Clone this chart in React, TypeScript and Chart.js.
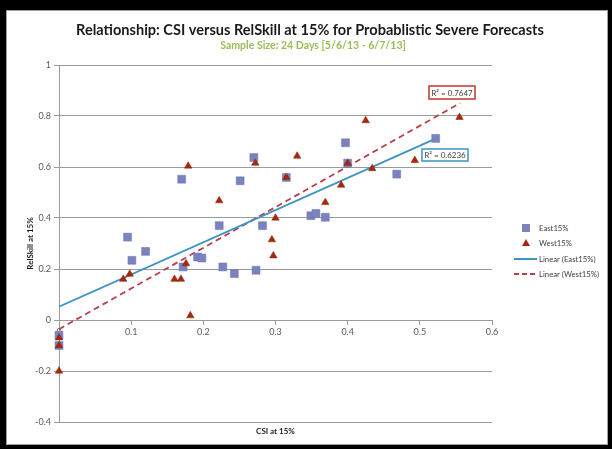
import React, { useEffect, useRef } from "react";
import { Chart, registerables } from "chart.js";

Chart.register(...registerables);

const titleText = "Relationship: CSI versus RelSkill at 15% for Probablistic Severe Forecasts";
const subtitleText = "Sample Size: 24 Days [5/6/13 - 6/7/13]";
const xTitle = "CSI at 15%";
const yTitle = "RelSkill at 15%";
const seriesNames = ["East15%", "West15%", "Linear (East15%)", "Linear (West15%)"];
const r2Labels = ["R² = 0.6236", "R² = 0.7647"];

const eastX = [0, 0, 0.095, 0.101, 0.12, 0.17, 0.172, 0.192, 0.198, 0.222, 0.227, 0.243, 0.251, 0.27, 0.273, 0.282, 0.315, 0.349, 0.356, 0.369, 0.397, 0.4, 0.468, 0.522];
const eastY = [-0.06, -0.1, 0.325, 0.234, 0.269, 0.552, 0.208, 0.247, 0.243, 0.37, 0.208, 0.182, 0.546, 0.637, 0.195, 0.37, 0.559, 0.409, 0.418, 0.403, 0.695, 0.615, 0.572, 0.712];

const westX = [0, 0, 0, 0.089, 0.098, 0.16, 0.169, 0.176, 0.179, 0.182, 0.222, 0.272, 0.295, 0.297, 0.3, 0.315, 0.33, 0.369, 0.391, 0.4, 0.425, 0.434, 0.493, 0.555];
const westY = [-0.07, -0.1, -0.2, 0.16, 0.18, 0.16, 0.16, 0.221, 0.604, 0.017, 0.468, 0.615, 0.315, 0.252, 0.4, 0.559, 0.643, 0.461, 0.529, 0.615, 0.782, 0.594, 0.626, 0.795];

const eastTrendX = [0, 0.522];
const eastTrendY = [0.052, 0.711];
const westTrendX = [0, 0.556];
const westTrendY = [-0.036, 0.851];

const xTicks = [0, 0.1, 0.2, 0.3, 0.4, 0.5, 0.6];
const yTicks = [-0.4, -0.2, 0, 0.2, 0.4, 0.6, 0.8, 1];

const FONT = "Lato, 'Open Sans', sans-serif";
const EAST_COLOR = "#7A83BF";
const EAST_BORDER = "#6A72AE";
const WEST_COLOR = "#A8280C";
const WEST_BORDER = "#8A1C06";
const EAST_LINE = "#3C93C4";
const WEST_LINE = "#B8404A";

const toPts = (xs: number[], ys: number[]) => xs.map((x, i) => ({ x, y: ys[i] }));

function fitText(ctx: CanvasRenderingContext2D, text: string, weight: string, base: number, target: number) {
  ctx.font = `${weight} ${base}px ${FONT}`;
  const w = ctx.measureText(text).width;
  const size = base * (target / w);
  ctx.font = `${weight} ${size}px ${FONT}`;
}

const decorPlugin = {
  id: "decor",
  afterDraw(chart: any) {
    const ctx: CanvasRenderingContext2D = chart.ctx;
    ctx.save();
    // Title
    ctx.textAlign = "center";
    ctx.textBaseline = "middle";
    ctx.fillStyle = "#1a1a1a";
    fitText(ctx, titleText, "bold", 15, 468);
    ctx.fillText(titleText, 303, 19);
    ctx.fillStyle = "#9BBB59";
    fitText(ctx, subtitleText, "bold", 11, 186);
    ctx.fillText(subtitleText, 306, 35);

    // Axis titles
    ctx.fillStyle = "#1a1a1a";
    ctx.font = `bold 8px ${FONT}`;
    ctx.fillText(xTitle, (chart.chartArea.left + chart.chartArea.right) / 2, 420);
    ctx.save();
    ctx.translate(23, (chart.chartArea.top + chart.chartArea.bottom) / 2);
    ctx.rotate(-Math.PI / 2);
    ctx.fillText(yTitle, 0, 0);
    ctx.restore();

    // R² boxes
    const boxes = [
      { text: r2Labels[0], color: EAST_LINE, x: 415, y: 138, w: 46, h: 12 },
      { text: r2Labels[1], color: "#C0392B", x: 422, y: 75, w: 46, h: 13 },
    ];
    ctx.font = `8px ${FONT}`;
    boxes.forEach((b) => {
      ctx.fillStyle = "#ffffff";
      ctx.fillRect(b.x, b.y, b.w, b.h);
      ctx.strokeStyle = b.color;
      ctx.lineWidth = 1.5;
      ctx.strokeRect(b.x, b.y, b.w, b.h);
      ctx.fillStyle = "#404040";
      ctx.fillText(b.text, b.x + b.w / 2, b.y + b.h / 2 + 0.5);
    });

    // Legend
    const lx = 519;
    const tx = 532;
    const rows = [217, 232, 248, 263];
    ctx.textAlign = "left";
    // East square
    ctx.fillStyle = EAST_COLOR;
    ctx.fillRect(lx - 4, rows[0] - 4, 8, 8);
    // West triangle
    ctx.fillStyle = WEST_COLOR;
    ctx.beginPath();
    ctx.moveTo(lx, rows[1] - 4);
    ctx.lineTo(lx + 4, rows[1] + 3);
    ctx.lineTo(lx - 4, rows[1] + 3);
    ctx.closePath();
    ctx.fill();
    // East line
    ctx.strokeStyle = EAST_LINE;
    ctx.lineWidth = 2;
    ctx.setLineDash([]);
    ctx.beginPath();
    ctx.moveTo(507, rows[2]);
    ctx.lineTo(530, rows[2]);
    ctx.stroke();
    // West line
    ctx.strokeStyle = WEST_LINE;
    ctx.setLineDash([5, 3]);
    ctx.beginPath();
    ctx.moveTo(507, rows[3]);
    ctx.lineTo(530, rows[3]);
    ctx.stroke();
    ctx.setLineDash([]);
    ctx.fillStyle = "#404040";
    fitText(ctx, seriesNames[3], "normal", 9, 60);
    seriesNames.forEach((n, i) => ctx.fillText(n, tx, rows[i] + 0.5));
    ctx.restore();
  },
};

export default function App() {
  const ref = useRef<HTMLCanvasElement | null>(null);
  useEffect(() => {
    if (!ref.current) return;
    const fmt = (v: any) => String(Number(Number(v).toFixed(2)));
    const chart = new Chart(ref.current, {
      type: "scatter",
      data: {
        datasets: [
          {
            label: seriesNames[0],
            data: toPts(eastX, eastY),
            pointStyle: "rect",
            pointRadius: 5.6,
            backgroundColor: EAST_COLOR,
            borderColor: EAST_BORDER,
            borderWidth: 0.5,
            clip: false as any,
            order: 4,
          },
          {
            label: seriesNames[1],
            data: toPts(westX, westY),
            pointStyle: "triangle",
            pointRadius: 4.3,
            backgroundColor: WEST_COLOR,
            borderColor: WEST_BORDER,
            borderWidth: 0.5,
            clip: false as any,
            order: 3,
          },
          {
            label: seriesNames[2],
            data: toPts(eastTrendX, eastTrendY),
            showLine: true,
            pointRadius: 0,
            borderColor: EAST_LINE,
            borderWidth: 1.8,
            order: 5,
          },
          {
            label: seriesNames[3],
            data: toPts(westTrendX, westTrendY),
            showLine: true,
            pointRadius: 0,
            borderColor: WEST_LINE,
            borderWidth: 1.8,
            borderDash: [6, 4],
            order: 5,
          },
        ],
      },
      options: {
        responsive: false,
        animation: false,
        layout: { padding: { top: 54, bottom: 22, right: 115, left: 0 } },
        plugins: { legend: { display: false }, tooltip: { enabled: false }, title: { display: false } },
        scales: {
          x: {
            type: "linear",
            min: xTicks[0],
            max: xTicks[xTicks.length - 1],
            position: { y: 0 } as any,
            afterBuildTicks: (s: any) => {
              s.ticks = xTicks.map((v) => ({ value: v }));
            },
            ticks: { color: "#595959", font: { family: FONT, size: 9 }, padding: 3, callback: fmt },
            grid: { drawOnChartArea: false, drawTicks: true, tickLength: 4, color: "#9a9a9a" },
            border: { color: "#9a9a9a" },
          },
          y: {
            type: "linear",
            min: yTicks[0],
            max: yTicks[yTicks.length - 1],
            afterBuildTicks: (s: any) => {
              s.ticks = yTicks.map((v) => ({ value: v }));
            },
            afterFit: (s: any) => {
              s.width = 52;
            },
            ticks: { color: "#595959", font: { family: FONT, size: 9 }, padding: 3, callback: fmt },
            grid: { color: "#9a9a9a", tickLength: 5 },
            border: { color: "#9a9a9a" },
          },
        },
      },
      plugins: [decorPlugin],
    });
    return () => chart.destroy();
  }, []);

  return (
    <div style={{ position: "fixed", left: 0, top: 0, width: 612, height: 449, background: "#000" }}>
      <div
        style={{
          position: "absolute",
          left: 6,
          top: 10,
          width: 602,
          height: 435,
          background: "#fff",
          boxSizing: "border-box",
          border: "1px solid #a0a0a0",
        }}
      >
        <canvas ref={ref} width={600} height={433} style={{ display: "block" }} />
      </div>
    </div>
  );
}
